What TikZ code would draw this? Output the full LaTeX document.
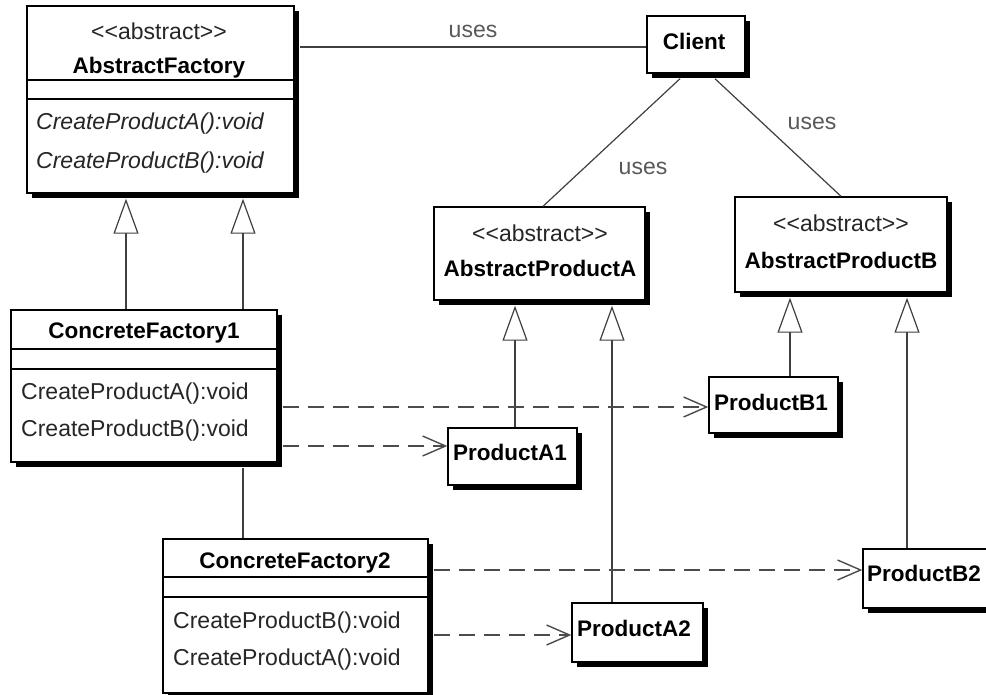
\documentclass[tikz,border=0pt]{standalone}
\usepackage{fontspec}
\setmainfont{Liberation Sans}[Ligatures=TeXOff]
\usetikzlibrary{arrows.meta,shadows,calc}
\begin{document}
\begin{tikzpicture}[x=1pt,y=-1pt,
  umlbox/.style={draw=black, line width=1.4pt, fill=white, inner sep=0pt,
    drop shadow={shadow xshift=5pt, shadow yshift=-5pt, fill=black, opacity=1}},
  regtext/.style={font=\fontsize{23}{27}\selectfont, text=black!85, inner sep=0pt},
  ittext/.style={font=\fontsize{23}{27}\selectfont\itshape, text=black!85, inner sep=0pt},
  boldtext/.style={font=\fontsize{22.5}{27}\selectfont\bfseries, text=black, inner sep=0pt},
  usestext/.style={font=\fontsize{23}{27}\selectfont, text=black!65, inner sep=0pt},
  sepline/.style={line width=1.3pt, black},
  assoc/.style={line width=1.2pt, black!75},
  inh/.style={line width=1.2pt, black!75, -{Triangle[open, length=35pt, width=25pt, fill=white, line width=1.2pt]}},
  dep/.style={line width=1.5pt, black!70, dash pattern=on 16pt off 9pt,
    -{Straight Barb[length=23pt, width=20pt, line width=1.4pt]}}]
\useasboundingbox (0,0) rectangle (986,694);
\clip (0,0) rectangle (986,694);
\fill[white] (0,0) rectangle (986,694);

% boxes
\node[umlbox, minimum width=267pt, minimum height=187pt] (af) at (160.5,99.5) {};
\node[umlbox, minimum width=98pt, minimum height=57pt] (client) at (696,44.5) {};
\node[umlbox, minimum width=211pt, minimum height=93pt] (apa) at (539.5,253.5) {};
\node[umlbox, minimum width=212pt, minimum height=95pt] (apb) at (841,244.5) {};
\node[umlbox, minimum width=266pt, minimum height=152pt] (cf1) at (144,386) {};
\node[umlbox, minimum width=265pt, minimum height=154pt] (cf2) at (295.5,616) {};
\node[umlbox, minimum width=129pt, minimum height=57pt] (pa1) at (512.5,456.5) {};
\node[umlbox, minimum width=129pt, minimum height=56pt] (pb1) at (773.5,405) {};
\node[umlbox, minimum width=131pt, minimum height=59pt] (pa2) at (637.5,632.5) {};
\node[umlbox, minimum width=130pt, minimum height=59pt] (pb2) at (928,578.5) {};

% separators
\draw[sepline] (af.west |- 0,80) -- (af.east |- 0,80);
\draw[sepline] (af.west |- 0,99) -- (af.east |- 0,99);
\draw[sepline] (cf1.west |- 0,349) -- (cf1.east |- 0,349);
\draw[sepline] (cf1.west |- 0,369) -- (cf1.east |- 0,369);
\draw[sepline] (cf2.west |- 0,577) -- (cf2.east |- 0,577);
\draw[sepline] (cf2.west |- 0,597) -- (cf2.east |- 0,597);

% texts
\node[regtext] (afst) at (159,31) {<<abstract>>};
\node[boldtext] (aft) at (159,68) {AbstractFactory};
\node[ittext, anchor=west] (afm1) at (36,124) {CreateProductA():void};
\node[ittext, anchor=west] (afm2) at (36,163) {CreateProductB():void};

\node[boldtext] (clt) at (694,41) {Client};

\node[regtext] (apast) at (540,233) {<<abstract>>};
\node[boldtext] (apat) at (540,268) {AbstractProductA};
\node[regtext] (apbst) at (841,223) {<<abstract>>};
\node[boldtext] (apbt) at (841,260) {AbstractProductB};

\node[boldtext] (cf1t) at (144,333) {ConcreteFactory1};
\node[regtext, anchor=west] (cf1m1) at (21,394) {CreateProductA():void};
\node[regtext, anchor=west] (cf1m2) at (21,431) {CreateProductB():void};

\node[boldtext] (cf2t) at (295,563) {ConcreteFactory2};
\node[regtext, anchor=west] (cf2m1) at (173,623) {CreateProductB():void};
\node[regtext, anchor=west] (cf2m2) at (173,660) {CreateProductA():void};

\node[boldtext, anchor=west] (pa1t) at (453,452) {ProductA1};
\node[boldtext, anchor=west] (pb1t) at (714,402) {ProductB1};
\node[boldtext, anchor=west] (pa2t) at (577,628) {ProductA2};
\node[boldtext, anchor=west] (pb2t) at (867,573) {ProductB2};

% associations
\draw[assoc] ($(af.east |- client.west)+(5,2.5)$) -- ($(client.west)+(0,2.5)$)
  node[usestext, pos=0.5, above=9pt] (u1) {uses};
\draw[assoc] ($(client.south)+(-16,5)$) -- ($(apa.north)+(3.5,0)$);
\node[usestext] (u2) at (643,168) {uses};
\draw[assoc] ($(client.south)+(19,5)$) -- (apb.north);
\node[usestext] (u3) at (812,123) {uses};

% inheritance
\coordinate (xa) at (126,0);
\coordinate (xb) at (243,0);
\coordinate (xc) at (515,0);
\coordinate (xd) at (612,0);
\coordinate (xe) at (790,0);
\coordinate (xf) at (907,0);
\draw[inh] (xa |- cf1.north) -- ($(xa |- af.south)+(0,5)$);
\draw[inh] (xb |- cf1.north) -- ($(xb |- af.south)+(0,5)$);
\draw[inh] (xc |- pa1.north) -- ($(xc |- apa.south)+(0,5)$);
\draw[inh] (xd |- pa2.north) -- ($(xd |- apa.south)+(0,5)$);
\draw[inh] (xe |- pb1.north) -- ($(xe |- apb.south)+(0,5)$);
\draw[inh] (xf |- pb2.north) -- ($(xf |- apb.south)+(0,5)$);

% factory link
\draw[assoc] ($(xb |- cf1.south)+(0,5)$) -- (xb |- cf2.north);

% dependencies
\draw[dep] ($(cf1.east |- 0,407)+(5,0)$) -- (pb1.west |- 0,407);
\draw[dep] ($(cf1.east |- 0,446)+(5,0)$) -- (pa1.west |- 0,446);
\draw[dep] ($(cf2.east |- 0,570)+(5,0)$) -- (pb2.west |- 0,570);
\draw[dep] ($(cf2.east |- 0,635)+(5,0)$) -- (pa2.west |- 0,635);
\end{tikzpicture}
\end{document}
